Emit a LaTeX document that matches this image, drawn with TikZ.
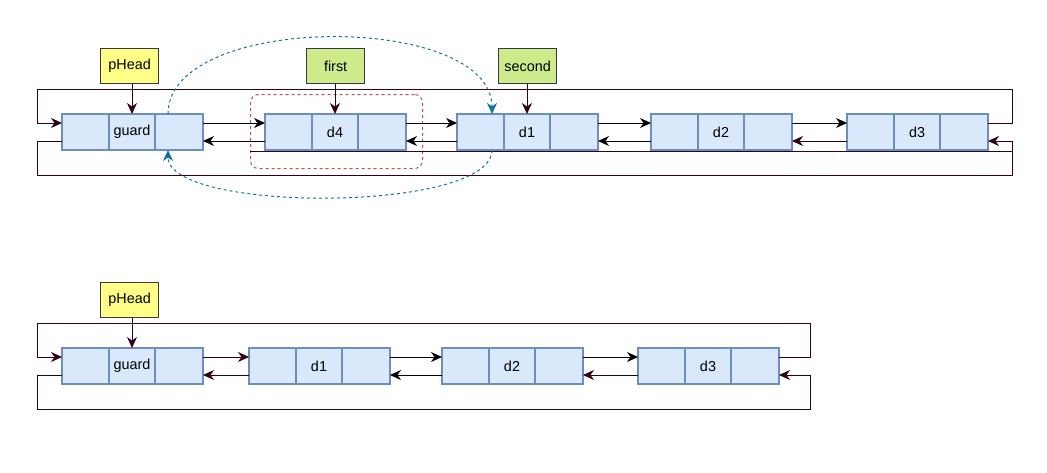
\documentclass[tikz,border=0pt]{standalone}
\usepackage{fontspec}
\setmainfont{Liberation Sans}
\usetikzlibrary{arrows.meta,calc}
\definecolor{cellfill}{HTML}{DAE8FC}
\definecolor{cellline}{HTML}{6C8EBF}
\definecolor{yel}{HTML}{FFFF88}
\definecolor{grn}{HTML}{CDEB8B}
\definecolor{boxline}{HTML}{36393D}
\definecolor{maroon}{RGB}{51,0,26}
\definecolor{dblue}{HTML}{10739E}
\definecolor{dred}{HTML}{B85450}
\tikzset{
  cell/.style={draw=cellline, fill=cellfill, line width=1.3pt, minimum height=36pt, inner sep=0pt, outer sep=0pt, font=\fontsize{14.4}{16}\selectfont},
  ptr/.style={draw=boxline, line width=1.2pt, minimum width=58pt, minimum height=35pt, inner sep=0pt, anchor=north west, font=\fontsize{14.4}{16}\selectfont},
  tip/.style={-{Stealth[length=11pt,width=10pt,inset=3.5pt]}},
  blk/.style={line width=1pt, draw=black, tip},
  mar/.style={line width=1pt, draw=maroon, tip},
  marline/.style={line width=1pt, draw=maroon},
  bluecurve/.style={line width=1pt, draw=dblue, dash pattern=on 3pt off 3pt, -{Stealth[length=11pt,width=10pt,inset=3.5pt,fill=dblue]}},
}
\newcommand{\dnode}[4]{%
  \node[cell, minimum width=47pt, anchor=north west] (#1l) at (#2,#3) {};
  \node[cell, minimum width=46pt, anchor=north west] (#1m) at (#1l.north east) {#4};
  \node[cell, minimum width=48pt, anchor=north west] (#1r) at (#1m.north east) {};
}
\begin{document}
\begin{tikzpicture}[x=1pt,y=-1pt]
\useasboundingbox (0,0) rectangle (1047,472);
% ---------- top row ----------
\node[draw=dred, line width=1pt, dash pattern=on 3pt off 3pt, rounded corners=8pt, minimum width=172pt, minimum height=74pt, anchor=north west, inner sep=0pt] (sel) at (250,94) {};
\dnode{g}{62}{114}{guard}
\dnode{a}{265}{114}{d4}
\dnode{b}{457}{114}{d1}
\dnode{c}{651}{114}{d2}
\dnode{e}{847}{114}{d3}
\node[ptr, fill=yel] (ph) at (100,48) {pHead};
\node[ptr, fill=grn] (fi) at (306,48) {first};
\node[ptr, fill=grn] (se) at (498,48) {second};
\draw[mar] (gm.north |- ph.south) -- (gm.north);
\draw[mar] (am.north |- fi.south) -- (am.north);
\draw[mar] (bm.north |- se.south) -- (bm.north);
% links
\draw[blk] ([yshift=9pt]gr.east) -- ([yshift=9pt]al.west);
\draw[blk] ([yshift=-9pt]al.west) -- ([yshift=-9pt]gr.east);
\draw[blk] ([yshift=9pt]ar.east) -- ([yshift=9pt]bl.west);
\draw[blk] ([yshift=-9pt]bl.west) -- ([yshift=-9pt]ar.east);
\draw[blk] ([yshift=9pt]br.east) -- ([yshift=9pt]cl.west);
\draw[blk] ([yshift=-9pt]cl.west) -- ([yshift=-9pt]br.east);
\draw[blk] ([yshift=9pt]cr.east) -- ([yshift=9pt]el.west);
\draw[mar] ([yshift=-9pt]el.west) -- ([yshift=-9pt]cr.east);
% loops
\coordinate (lpTR) at (1012,89);
\coordinate (lpTL) at (37,89);
\coordinate (lpBL) at (37,175);
\coordinate (lpBR) at (1012,175);
\draw[mar] ([yshift=9pt]er.east) -| (lpTR) -| (lpTL) |- ([yshift=9pt]gl.west);
\draw[mar] ([yshift=-9pt]gl.west) -| (lpBL) -| (lpBR) |- ([yshift=-9pt]er.east);
\coordinate (xs) at (250,151);
\coordinate (xe) at (1012,151);
\draw[marline] (xs) -- (xe);
% blue dashed curves
\coordinate (c1s) at ([xshift=-11pt]gr.north);
\coordinate (c1e) at ([xshift=-12pt]bl.north east);
\coordinate (c2s) at ([xshift=-12pt]bl.south east);
\coordinate (c2e) at ([xshift=-11pt]gr.south);
\draw[bluecurve] (c1s) .. controls (168,12) and (492,12) .. (c1e);
\draw[bluecurve] (c2s) .. controls (492,213) and (168,213) .. (c2e);
% ---------- bottom row ----------
\dnode{G}{62}{348}{guard}
\dnode{B}{249}{348}{d1}
\dnode{C}{442}{348}{d2}
\dnode{E}{638}{348}{d3}
\node[ptr, fill=yel] (PH) at (100,282) {pHead};
\draw[mar] (Gm.north |- PH.south) -- (Gm.north);
\draw[mar] ([yshift=9pt]Gr.east) -- ([yshift=9pt]Bl.west);
\draw[mar] ([yshift=-9pt]Bl.west) -- ([yshift=-9pt]Gr.east);
\draw[blk] ([yshift=9pt]Br.east) -- ([yshift=9pt]Cl.west);
\draw[blk] ([yshift=-9pt]Cl.west) -- ([yshift=-9pt]Br.east);
\draw[blk] ([yshift=9pt]Cr.east) -- ([yshift=9pt]El.west);
\draw[mar] ([yshift=-9pt]El.west) -- ([yshift=-9pt]Cr.east);
\coordinate (LTR) at (810,323);
\coordinate (LTL) at (37,323);
\coordinate (LBL) at (37,409);
\coordinate (LBR) at (810,409);
\draw[mar] ([yshift=9pt]Er.east) -| (LTR) -| (LTL) |- ([yshift=9pt]Gl.west);
\draw[mar] ([yshift=-9pt]Gl.west) -| (LBL) -| (LBR) |- ([yshift=-9pt]Er.east);
\end{tikzpicture}
\end{document}
